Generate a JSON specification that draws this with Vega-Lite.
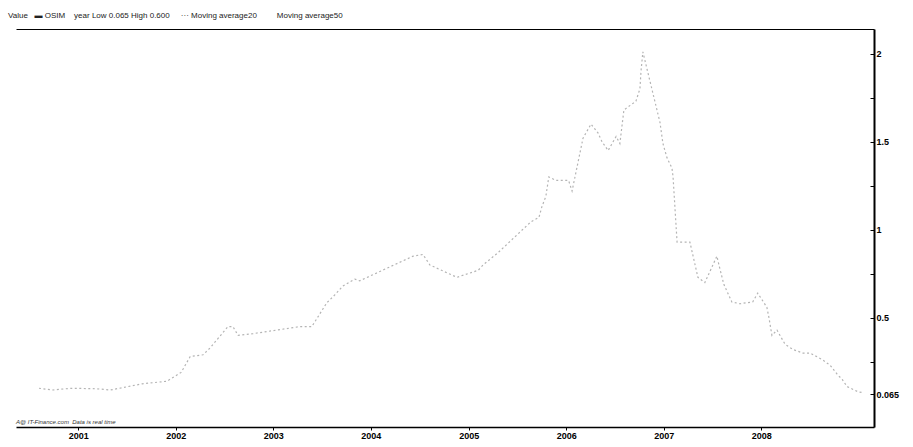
{
  "$schema": "https://vega.github.io/schema/vega-lite/v6.json",
  "autosize": "none",
  "width": 858,
  "height": 398,
  "padding": {"left": 16, "top": 29, "right": 39, "bottom": 20},
  "background": "white",
  "config": {"view": {"stroke": null}, "font": "Liberation Sans"},
  "title": {
    "text": "Value\u00a0\u00a0\u00a0▬ OSIM\u00a0\u00a0\u00a0\u00a0year Low 0.065 High 0.600\u00a0\u00a0\u00a0\u00a0\u00a0··· Moving average20\u00a0\u00a0\u00a0\u00a0\u00a0\u00a0\u00a0\u00a0\u00a0Moving average50",
    "anchor": "start",
    "fontSize": 8,
    "fontWeight": "normal",
    "color": "#222",
    "dx": -8,
    "offset": 9
  },
  "datasets": {
    "price": [
      {"date": "2000-08-07", "value": 0.10},
      {"date": "2000-09-28", "value": 0.09},
      {"date": "2000-12-05", "value": 0.10},
      {"date": "2001-03-13", "value": 0.097},
      {"date": "2001-05-01", "value": 0.09},
      {"date": "2001-08-28", "value": 0.125},
      {"date": "2001-11-29", "value": 0.14},
      {"date": "2002-01-21", "value": 0.19},
      {"date": "2002-02-24", "value": 0.28},
      {"date": "2002-04-13", "value": 0.29},
      {"date": "2002-05-10", "value": 0.33},
      {"date": "2002-07-15", "value": 0.45},
      {"date": "2002-08-03", "value": 0.45},
      {"date": "2002-08-22", "value": 0.40},
      {"date": "2002-10-17", "value": 0.41},
      {"date": "2003-04-10", "value": 0.45},
      {"date": "2003-05-25", "value": 0.45},
      {"date": "2003-07-20", "value": 0.585},
      {"date": "2003-08-19", "value": 0.63},
      {"date": "2003-09-18", "value": 0.68},
      {"date": "2003-11-02", "value": 0.72},
      {"date": "2003-11-20", "value": 0.71},
      {"date": "2004-06-07", "value": 0.85},
      {"date": "2004-07-14", "value": 0.86},
      {"date": "2004-08-09", "value": 0.80},
      {"date": "2004-11-18", "value": 0.73},
      {"date": "2005-02-06", "value": 0.77},
      {"date": "2005-02-24", "value": 0.80},
      {"date": "2005-04-21", "value": 0.87},
      {"date": "2005-08-22", "value": 1.045},
      {"date": "2005-09-21", "value": 1.07},
      {"date": "2005-10-02", "value": 1.13},
      {"date": "2005-10-17", "value": 1.19},
      {"date": "2005-10-28", "value": 1.30},
      {"date": "2005-11-24", "value": 1.28},
      {"date": "2006-01-10", "value": 1.28},
      {"date": "2006-01-23", "value": 1.22},
      {"date": "2006-03-05", "value": 1.52},
      {"date": "2006-04-04", "value": 1.60},
      {"date": "2006-04-30", "value": 1.55},
      {"date": "2006-05-15", "value": 1.50},
      {"date": "2006-06-07", "value": 1.45},
      {"date": "2006-07-07", "value": 1.53},
      {"date": "2006-07-21", "value": 1.49},
      {"date": "2006-08-05", "value": 1.68},
      {"date": "2006-09-19", "value": 1.73},
      {"date": "2006-10-04", "value": 1.80},
      {"date": "2006-10-08", "value": 1.90},
      {"date": "2006-10-15", "value": 2.01},
      {"date": "2006-12-10", "value": 1.66},
      {"date": "2006-12-18", "value": 1.61},
      {"date": "2006-12-29", "value": 1.49},
      {"date": "2007-01-13", "value": 1.41},
      {"date": "2007-02-01", "value": 1.35},
      {"date": "2007-02-05", "value": 1.30},
      {"date": "2007-02-20", "value": 0.93},
      {"date": "2007-04-09", "value": 0.93},
      {"date": "2007-05-09", "value": 0.73},
      {"date": "2007-06-04", "value": 0.70},
      {"date": "2007-07-19", "value": 0.85},
      {"date": "2007-07-30", "value": 0.78},
      {"date": "2007-08-14", "value": 0.69},
      {"date": "2007-09-13", "value": 0.59},
      {"date": "2007-10-13", "value": 0.58},
      {"date": "2007-11-30", "value": 0.59},
      {"date": "2007-12-19", "value": 0.64},
      {"date": "2008-01-22", "value": 0.56},
      {"date": "2008-01-30", "value": 0.50},
      {"date": "2008-02-10", "value": 0.40},
      {"date": "2008-02-29", "value": 0.43},
      {"date": "2008-03-30", "value": 0.35},
      {"date": "2008-04-29", "value": 0.32},
      {"date": "2008-06-05", "value": 0.30},
      {"date": "2008-07-02", "value": 0.30},
      {"date": "2008-08-19", "value": 0.26},
      {"date": "2008-09-15", "value": 0.23},
      {"date": "2008-10-11", "value": 0.18},
      {"date": "2008-10-30", "value": 0.15},
      {"date": "2008-11-17", "value": 0.11},
      {"date": "2008-12-28", "value": 0.08},
      {"date": "2009-01-16", "value": 0.075}
    ],
    "note": [
      {"date": "2000-05-13", "value": -0.09, "label": "A@ IT-Finance.com\u00a0\u00a0Data is real time"}
    ]
  },
  "layer": [
    {
      "data": {"name": "price"},
      "mark": {"type": "line", "stroke": "#b4b4b4", "strokeWidth": 1.2, "strokeDash": [2, 2.5]},
      "encoding": {
        "x": {
          "field": "date", "type": "temporal",
          "scale": {"domain": ["2000-05-13", "2009-02-26"]},
          "axis": {
            "orient": "bottom", "title": null, "format": "%Y",
            "values": ["2001-01-01", "2002-01-01", "2003-01-01", "2004-01-01", "2005-01-01", "2006-01-01", "2007-01-01", "2008-01-01"],
            "grid": false, "domainColor": "#000", "domainWidth": 1.5,
            "tickColor": "#000", "tickSize": 3,
            "labelFontSize": 9, "labelFontWeight": "bold", "labelColor": "#000",
            "labelPadding": 1
          }
        },
        "y": {
          "field": "value", "type": "quantitative",
          "scale": {"domain": [-0.12, 2.14], "nice": false, "zero": false},
          "axis": {
            "orient": "right", "title": null,
            "values": [0.065, 0.25, 0.5, 0.75, 1, 1.25, 1.5, 1.75, 2],
            "labelExpr": "(datum.value == 0.25 || datum.value == 0.75 || datum.value == 1.25 || datum.value == 1.75) ? '' : '' + datum.value",
            "grid": false, "domainColor": "#000", "domainWidth": 2,
            "tickColor": "#000", "tickSize": -4,
            "labelFontSize": 9, "labelFontWeight": "bold", "labelColor": "#000",
            "labelPadding": 6
          }
        }
      }
    },
    {
      "data": {"name": "note"},
      "mark": {"type": "text", "align": "left", "baseline": "middle", "fontSize": 6, "fontStyle": "italic", "color": "#333"},
      "encoding": {
        "x": {"field": "date", "type": "temporal", "axis": {"orient": "top", "labels": false, "ticks": false, "title": null, "grid": false, "domainColor": "#000", "domainWidth": 1}},
        "y": {"field": "value", "type": "quantitative", "axis": null},
        "text": {"field": "label"}
      }
    }
  ],
  "resolve": {"axis": {"x": "independent", "y": "independent"}}
}
